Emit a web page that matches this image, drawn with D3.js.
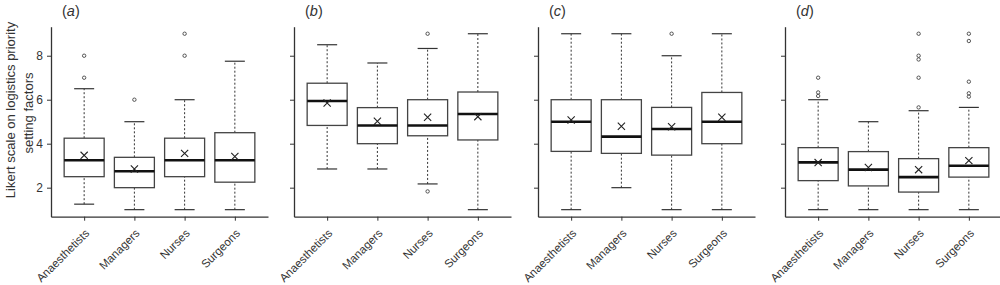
<!DOCTYPE html>
<html>
<head>
<meta charset="utf-8">
<script src="https://cdn.jsdelivr.net/npm/d3@7"></script>
<style>
  body { margin: 0; background: #fff; }
  svg { display: block; font-family: "Liberation Sans", Arial, sans-serif; }
</style>
</head>
<body>
<div id="chart"></div>
<script>
// categories and tick values
const groups = ['Anaesthetists', 'Managers', 'Nurses', 'Surgeons'];
const panelLabels = ['a', 'b', 'c', 'd'];
const yTicks = [2, 4, 6, 8];

// box stats per group: [lower whisker, q1, median, q3, upper whisker, mean]
const statsA = [
	[1.25, 2.5, 3.25, 4.25, 6.5, 3.47],
	[1.0, 2.0, 2.75, 3.38, 5.0, 2.85],
	[1.0, 2.5, 3.25, 4.25, 6.0, 3.56],
	[1.0, 2.25, 3.25, 4.5, 7.75, 3.42],
];
const statsB = [
	[2.85, 4.83, 5.94, 6.75, 8.5, 5.85],
	[2.85, 4.0, 4.83, 5.64, 7.67, 5.02],
	[2.17, 4.36, 4.83, 6.0, 8.33, 5.2],
	[1.0, 4.17, 5.35, 6.35, 9.0, 5.23],
];
const statsC = [
	[1.0, 3.65, 5.0, 6.0, 9.0, 5.08],
	[2.0, 3.56, 4.32, 6.0, 9.0, 4.79],
	[1.0, 3.48, 4.67, 5.65, 8.0, 4.77],
	[1.0, 4.0, 5.0, 6.33, 9.0, 5.2],
];
const statsD = [
	[1.0, 2.32, 3.15, 3.82, 6.0, 3.14],
	[1.0, 2.08, 2.82, 3.64, 5.0, 2.92],
	[1.0, 1.8, 2.48, 3.32, 5.5, 2.82],
	[1.0, 2.48, 3.0, 3.82, 5.65, 3.23],
];

// outliers per group
const outliersA = [[7, 8], [6], [8, 9], []];
const outliersB = [[], [], [9, 1.83], []];
const outliersC = [[], [], [9], []];
const outliersD = [[6.17, 6.33, 7], [], [5.65, 7, 7.83, 8, 9], [6.14, 6.29, 6.82, 8.67, 9]];

const panels = [
	{ stats: statsA, outliers: outliersA },
	{ stats: statsB, outliers: outliersB },
	{ stats: statsC, outliers: outliersC },
	{ stats: statsD, outliers: outliersD },
];

const W = 1000;
const H = 285;
const panelLeft = [51, 294, 538, 785];
const panelW = 217;
const plotTop = 26.7;
const plotBottom = 216.7;
const boxW = 40;
const capW = 20;
const ink = '#333';

const svg = d3.select('#chart').append('svg').attr('width', W).attr('height', H);

// R style 4% padding on the value range
const yPad = 0.04 * (9 - 1);
const y = d3.scaleLinear().domain([1 - yPad, 9 + yPad]).range([plotBottom, plotTop]);
const x = d3.scaleLinear().domain([0.5 - 0.16, groups.length + 0.5 + 0.16]).range([0, panelW]);

// y axis title, two lines
const yTitle = svg.append('g')
	.attr('transform', 'translate(0, 110) rotate(-90)')
	.attr('text-anchor', 'middle')
	.attr('fill', ink)
	.style('font-size', '13px');
yTitle.append('text').attr('x', 0).attr('y', 14.5).text('Likert scale on logistics priority');
yTitle.append('text').attr('x', -3).attr('y', 32.5).text('setting factors');

panels.forEach((p, pi) => {
	const g = svg.append('g').attr('transform', `translate(${panelLeft[pi]}, 0)`);

	// panel label like (a)
	const lab = g.append('text')
		.attr('x', 11)
		.attr('y', 16)
		.attr('fill', ink)
		.style('font-size', '14.5px');
	lab.append('tspan').text('(');
	lab.append('tspan').style('font-style', 'italic').text(panelLabels[pi]);
	lab.append('tspan').text(')');

	// y axis
	const yAxis = g.append('g')
		.call(d3.axisLeft(y).tickValues(yTicks).tickSize(4).tickSizeOuter(0).tickPadding(4)
			.tickFormat(pi === 0 ? d3.format('d') : () => ''));
	yAxis.select('.domain').attr('stroke', ink).attr('stroke-width', 1.3);
	yAxis.selectAll('.tick line').attr('stroke', ink);
	yAxis.selectAll('.tick text').attr('fill', ink).style('font-size', '12px');

	// x axis, labels drawn separately below
	const xAxis = g.append('g')
		.attr('transform', `translate(0, ${plotBottom})`)
		.call(d3.axisBottom(x).tickValues(d3.range(1, groups.length + 1)).tickSize(4).tickSizeOuter(0)
			.tickFormat(''));
	xAxis.select('.domain').attr('stroke', ink).attr('stroke-width', 1.3);
	xAxis.selectAll('.tick line').attr('stroke', ink);

	g.selectAll('text.xlab')
		.data(groups)
		.enter()
		.append('text')
		.attr('class', 'xlab')
		.attr('text-anchor', 'end')
		.attr('dy', '0.35em')
		.attr('fill', ink)
		.style('font-size', '11.5px')
		.attr('transform', (d, i) => `translate(${x(i + 1) + 3}, ${plotBottom + 14.5}) rotate(-45)`)
		.text((d) => d);

	const box = g.selectAll('g.box')
		.data(p.stats)
		.enter()
		.append('g')
		.attr('class', 'box')
		.attr('transform', (d, i) => `translate(${x(i + 1)}, 0)`);

	// whiskers, dashed
	box.append('line')
		.attr('y1', (d) => y(d[0]))
		.attr('y2', (d) => y(d[1]))
		.attr('stroke', ink)
		.attr('stroke-dasharray', '2,2');
	box.append('line')
		.attr('y1', (d) => y(d[3]))
		.attr('y2', (d) => y(d[4]))
		.attr('stroke', ink)
		.attr('stroke-dasharray', '2,2');
	// caps
	box.selectAll('line.cap')
		.data((d) => [d[0], d[4]])
		.enter()
		.append('line')
		.attr('class', 'cap')
		.attr('x1', -capW / 2)
		.attr('x2', capW / 2)
		.attr('y1', (v) => y(v))
		.attr('y2', (v) => y(v))
		.attr('stroke', ink)
		.attr('stroke-width', 1.2);
	// box
	box.append('rect')
		.attr('x', -boxW / 2)
		.attr('width', boxW)
		.attr('y', (d) => y(d[3]))
		.attr('height', (d) => y(d[1]) - y(d[3]))
		.attr('fill', '#fff')
		.attr('stroke', '#444')
		.attr('stroke-width', 1.3);
	// median
	box.append('line')
		.attr('x1', -boxW / 2)
		.attr('x2', boxW / 2)
		.attr('y1', (d) => y(d[2]))
		.attr('y2', (d) => y(d[2]))
		.attr('stroke', '#111')
		.attr('stroke-width', 2.6);
	// mean marker x
	const m = 3.6;
	box.append('path')
		.attr('d', (d) => {
			const c = y(d[5]);
			return `M${-m},${c - m}L${m},${c + m}M${-m},${c + m}L${m},${c - m}`;
		})
		.attr('stroke', '#222')
		.attr('stroke-width', 1.1)
		.attr('fill', 'none');

	// outliers
	box.each(function(d, i) {
		d3.select(this)
			.selectAll('circle')
			.data(p.outliers[i])
			.enter()
			.append('circle')
			.attr('cx', 0)
			.attr('cy', (v) => y(v))
			.attr('r', 1.7)
			.attr('fill', 'none')
			.attr('stroke', '#444')
			.attr('stroke-width', 0.9);
	});
});
</script>
</body>
</html>
